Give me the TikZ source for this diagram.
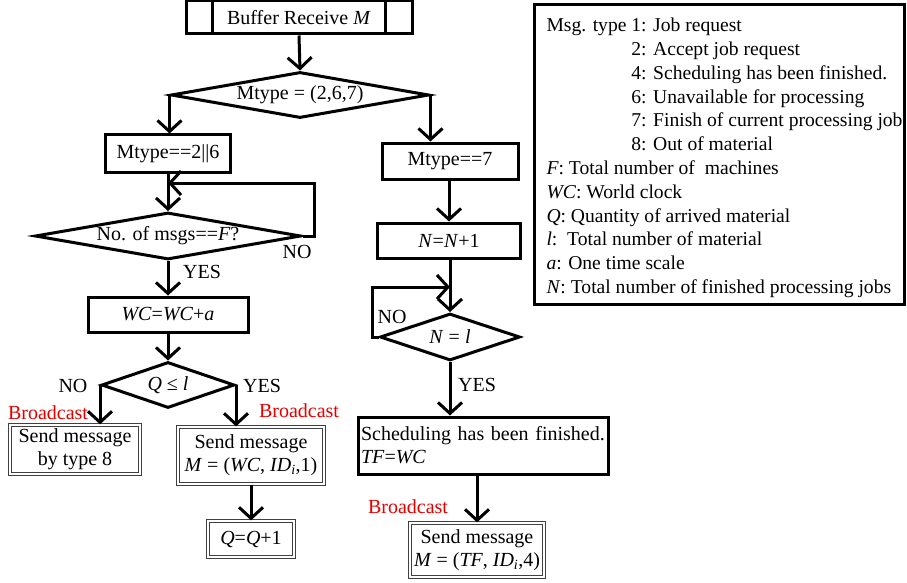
\documentclass[tikz,border=0pt]{standalone}
\usepackage{fontspec}
\setmainfont{Liberation Serif}
\usetikzlibrary{arrows.meta,shapes.geometric}
\begin{document}
\begin{tikzpicture}[x=1pt,y=-1pt,
  font=\fontsize{20}{23}\selectfont,
  line width=3pt,
  arr/.style={-{Straight Barb[length=11pt,width=24pt,line width=3pt]}},
  proc/.style={draw,rectangle,inner sep=0pt,line width=3pt},
  dbl/.style={draw=black!75,rectangle,inner sep=0pt,line width=1.3pt,double=white,double distance=1.6pt,align=center},
  dec/.style={draw,diamond,inner sep=0pt,line width=3pt,shape aspect=5},
  lbl/.style={inner sep=0pt},
  bc/.style={inner sep=0pt,text=red!90!black}]
\useasboundingbox (0,0) rectangle (907,583);
% top
\node[proc,minimum width=226pt,minimum height=33pt] (buf) at (299,17.5) {Buffer Receive \textit{M}};
\draw ([xshift=28pt]buf.north west) -- ([xshift=28pt]buf.south west);
\draw ([xshift=-28pt]buf.north east) -- ([xshift=-28pt]buf.south east);
\node[dec,minimum width=258pt,minimum height=46pt] (d1) at (300,95) {Mtype = (2,6,7)};
\draw[arr] (buf.south) -- (d1.north);
% left column
\node[proc,minimum width=125pt,minimum height=37pt] (b26) at (168,153.5) {Mtype==2||6};
\node[proc,minimum width=136pt,minimum height=36pt] (b7) at (450,161) {Mtype==7};
\draw[arr] (d1.west) -- (d1.west |- b26.north);
\draw[arr] (d1.east) -- (d1.east |- b7.north);
\node[dec,minimum width=266pt,minimum height=47pt] (d2) at (168,236) {No. of msgs==\textit{F}?};
\coordinate (lp) at (168,183);
\draw[arr] (b26.south) -- (d2.north);
\draw[arr] (d2.east) -- ++(12,0) |- (lp);
\node[lbl] (no1) at (297,252) {NO};
\node[proc,minimum width=160pt,minimum height=35pt] (wc) at (168,314.5) {\textit{WC}=\textit{WC}+\textit{a}};
\draw[arr] (d2.south) -- (wc.north);
\node[lbl] (yes1) at (202,272) {YES};
\node[dec,minimum width=133pt,minimum height=46pt,shape aspect=2.9] (d3) at (168,385) {\textit{Q} ≤ \textit{l}};
\draw[arr] (wc.south) -- (d3.north);
\node[lbl] (no2) at (73,386) {NO};
\node[lbl] (yes2) at (262,386) {YES};
\node[dbl,minimum width=130pt,minimum height=49pt] (b8) at (75,449.5) {Send message\\by type 8};
\node[dbl,minimum width=146pt,minimum height=57pt] (bs1) at (251,455.5) {Send message\\\textit{M} = (\textit{WC}, \textit{ID\textsubscript{i}},1)};
\draw[arr] (d3.west) -- (d3.west |- b8.north);
\draw[arr] (d3.east) -- (d3.east |- bs1.north);
\node[bc] (bc1) at (48,413) {Broadcast};
\node[bc] (bc2) at (299,411) {Broadcast};
\node[dbl,minimum width=86pt,minimum height=36pt] (bq) at (251,539) {\textit{Q}=\textit{Q}+1};
\draw[arr] (bs1.south) -- (bq.north);
% right column
\node[proc,minimum width=143pt,minimum height=35pt] (n1) at (449,240.5) {\textit{N}=\textit{N}+1};
\draw[arr] (b7.south) -- (n1.south |- b7.south) -- (n1.north);
\node[dec,minimum width=140pt,minimum height=47pt,shape aspect=3] (d4) at (450,337) {\textit{N} = \textit{l}};
\coordinate (lp2) at (450,287);
\draw[arr] (n1.south -| d4.north) -- (d4.north);
\draw[arr] (d4.west) -- (372,337) |- (lp2);
\node[lbl] (no3) at (392,317) {NO};
\node[lbl] (yes3) at (477,385) {YES};
\node[proc,minimum width=250pt,minimum height=57pt,align=left,text width=244pt] (sch) at (483,445.5) {Scheduling has been finished.\\\textit{TF}=\textit{WC}};
\draw[arr] (d4.south) -- (d4.south |- sch.north);
\node[dbl,minimum width=134pt,minimum height=54pt] (bs2) at (477,550) {Send message\\\textit{M} = (\textit{TF}, \textit{ID\textsubscript{i}},4)};
\draw[arr] (bs2.north |- sch.south) -- (bs2.north);
\node[bc] (bc3) at (408,507) {Broadcast};
% legend
\node[draw,rectangle,line width=3pt,minimum width=370pt,minimum height=300pt] (leg) at (719,154.5) {};
\node[inner sep=0pt,anchor=north west,align=left,font=\fontsize{19.6}{23.8}\selectfont] (legt) at (545,16.5) {%
Msg. type 1: Job request\\
\phantom{Msg. type }2: Accept job request\\
\phantom{Msg. type }4: Scheduling has been finished.\\
\phantom{Msg. type }6: Unavailable for processing\\
\phantom{Msg. type }7: Finish of current processing job\\
\phantom{Msg. type }8: Out of material\\
\textit{F}: Total number of\ \ machines\\
\textit{WC}: World clock\\
\textit{Q}: Quantity of arrived material\\
\textit{l}:\ \ Total number of material\\
\textit{a}: One time scale\\
\textit{N}: Total number of finished processing jobs};
\end{tikzpicture}
\end{document}
